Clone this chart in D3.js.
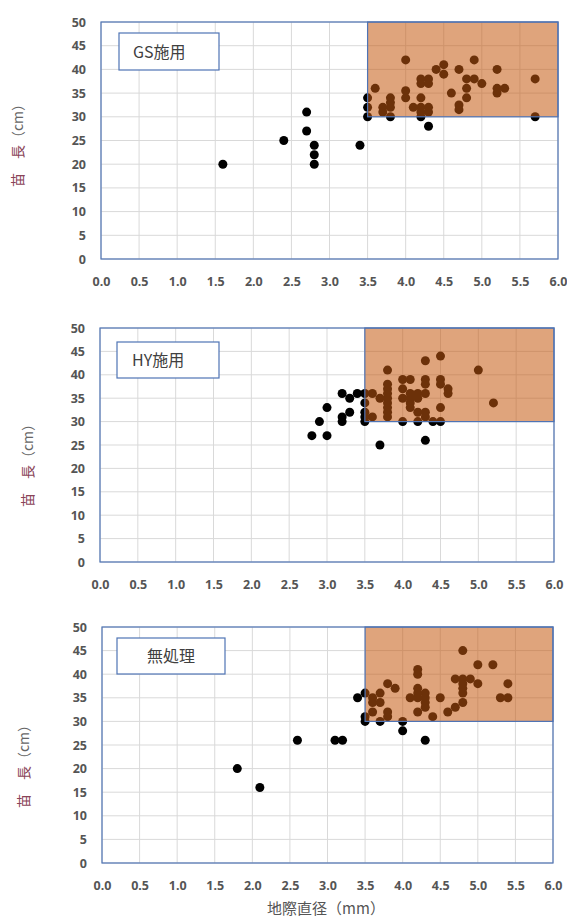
<!DOCTYPE html>
<html>
<head>
<meta charset="utf-8">
<script src="https://cdn.jsdelivr.net/npm/d3@7"></script>
<style>
  html, body { margin: 0; padding: 0; background: #fff; }
  svg { display: block; }
</style>
</head>
<body>
<svg id="chart" width="567" height="918"></svg>
<script>
// 地際直径 (mm) vs 苗長 (cm), three treatments
const xTicks = [0, 0.5, 1, 1.5, 2, 2.5, 3, 3.5, 4, 4.5, 5, 5.5, 6];
const yTicks = [0, 5, 10, 15, 20, 25, 30, 35, 40, 45, 50];
const panelNames = ["GS施用", "HY施用", "無処理"];

// target zone: diameter >= 3.5 mm and height >= 30 cm
const zoneX = [3.5, 6.0];
const zoneY = [30, 50];

// [diameter, height]
const gsPoints = [
  [1.6,20],[2.4,25],[2.7,31],[2.7,27],[2.8,24],[2.8,22],[2.8,20],[3.4,24],
  [3.5,34],[3.5,32],[3.5,30],[3.8,30],[4.2,30],[4.3,28],[5.7,30],
  [4.0,42],[4.5,41],[4.9,42],[4.4,40],[4.5,39],[4.7,40],[5.2,40],[5.7,38],
  [3.6,36],[4.0,35.5],[4.0,34],[4.2,38],[4.3,38],[4.2,37],[4.3,37],[4.6,35],
  [4.8,38],[4.8,36],[4.8,34],[4.9,38],[5.0,37],[5.2,36],[5.2,35],[5.3,36],
  [4.2,34],[4.1,32],[4.2,32],[4.3,32],[4.2,31],[4.3,31],[4.7,32.5],[4.7,31.5],
  [3.7,32],[3.7,31],[3.8,34],[3.8,33],[3.8,32]
];
const hyPoints = [
  [2.8,27],[3.0,27],[2.9,30],[3.0,33],[3.2,36],[3.2,31],[3.2,30],[3.3,35],
  [3.3,32],[3.4,36],[3.5,36],[3.5,34],[3.5,32],[3.5,31],[3.5,30],[3.7,25],
  [4.3,26],[4.0,30],[4.2,30],[4.4,30],[4.5,30],
  [4.5,44],[4.3,43],[3.8,41],[5.0,41],[5.2,34],[4.0,39],[4.1,39],[4.3,39],
  [4.3,38],[4.5,39],[3.8,38],[3.8,37],[3.8,36],[3.8,35],[3.8,34],[3.8,33],
  [3.8,32],[3.8,31],[4.0,37],[4.0,35],[4.1,36],[4.1,35],[4.1,34],[4.1,33],
  [4.2,36],[4.2,35],[4.3,36],[4.6,37],[4.6,36],[4.5,33],[4.5,38],[3.6,36],
  [3.7,35],[3.6,31],[4.2,32],[4.3,32],[4.3,31]
];
const nonePoints = [
  [1.8,20],[2.1,16],[2.6,26],[3.1,26],[3.2,26],[4.3,26],[4.0,28],[4.0,30],
  [3.4,35],[3.5,36],[3.5,31],[3.5,30],[3.7,30],
  [4.8,45],[5.0,42],[5.2,42],[4.2,41],[4.2,40],[4.7,39],[4.8,39],[4.9,39],
  [4.8,38],[4.8,37],[4.8,36],[5.0,38],[5.4,38],[5.3,35],[5.4,35],[4.8,34],
  [4.7,33],[4.6,32],[4.4,31],[4.5,35],[3.8,38],[3.9,37],[3.7,36],[3.6,35],
  [3.6,34],[3.6,32],[3.7,34],[3.8,32],[3.8,31],[4.1,35],[4.2,37],[4.2,36],
  [4.2,35],[4.2,32],[4.3,36],[4.3,35],[4.3,34],[4.3,33]
];
const panelData = [gsPoints, hyPoints, nonePoints];

// frame of each plot area and placement of its label box / y title
const frames = [
  {l: 101, r: 558, t: 22,  b: 259, box: [119, 33, 100, 37],  txt: [133, "start"], yt: [18, 142]},
  {l: 100, r: 554, t: 328, b: 562, box: [117, 342, 102, 36], txt: [132, "start"], yt: [28, 462]},
  {l: 102, r: 553, t: 627, b: 863, box: [117, 638, 108, 36], txt: [171, "middle"], yt: [24, 763]}
];

const BLUE = "#4f74b5";
const GRID = "#d9d9d9";
const TICK = "#555555";
const tickFont = "'Noto Sans', 'DejaVu Sans', sans-serif";
const cjkFont = "'Noto Sans CJK JP', 'Noto Sans', sans-serif";

const svg = d3.select("#chart");

frames.forEach((f, i) => {
  const x = d3.scaleLinear().domain([0, 6]).range([f.l, f.r]);
  const y = d3.scaleLinear().domain([0, 50]).range([f.b, f.t]);
  const g = svg.append("g");

  // grid
  g.append("g").selectAll("line.v").data(xTicks).join("line")
    .attr("x1", d => x(d)).attr("x2", d => x(d))
    .attr("y1", f.t).attr("y2", f.b)
    .attr("stroke", GRID).attr("stroke-width", 1);
  g.append("g").selectAll("line.h").data(yTicks).join("line")
    .attr("x1", f.l).attr("x2", f.r)
    .attr("y1", d => y(d)).attr("y2", d => y(d))
    .attr("stroke", GRID).attr("stroke-width", 1);

  // points
  g.append("g").selectAll("circle").data(panelData[i]).join("circle")
    .attr("cx", d => x(d[0])).attr("cy", d => y(d[1]))
    .attr("r", 4.5).attr("fill", "#000");

  // translucent target zone over the points
  g.append("rect")
    .attr("x", x(zoneX[0])).attr("y", y(zoneY[1]))
    .attr("width", x(zoneX[1]) - x(zoneX[0]))
    .attr("height", y(zoneY[0]) - y(zoneY[1]))
    .attr("fill", "#C55A11").attr("fill-opacity", 0.55)
    .attr("stroke", BLUE).attr("stroke-width", 1.2);

  // plot border
  g.append("rect")
    .attr("x", f.l).attr("y", f.t)
    .attr("width", f.r - f.l).attr("height", f.b - f.t)
    .attr("fill", "none").attr("stroke", BLUE).attr("stroke-width", 1.2);

  // axes
  const xa = g.append("g").attr("transform", `translate(0,${f.b})`)
    .call(d3.axisBottom(x).tickValues(xTicks).tickFormat(d3.format(".1f"))
      .tickSize(0).tickPadding(18));
  const ya = g.append("g").attr("transform", `translate(${f.l},0)`)
    .call(d3.axisLeft(y).tickValues(yTicks).tickSize(0).tickPadding(15));
  [xa, ya].forEach(a => {
    a.select(".domain").remove();
    a.selectAll("text").attr("fill", TICK)
      .style("font-family", tickFont).style("font-size", "12.5px")
      .style("font-weight", 700);
  });

  // label box
  const [bx, by, bw, bh] = f.box;
  g.append("rect").attr("x", bx).attr("y", by).attr("width", bw).attr("height", bh)
    .attr("fill", "#fff").attr("stroke", BLUE).attr("stroke-width", 1.2);
  g.append("text")
    .attr("x", f.txt[0]).attr("y", by + bh / 2 + 6)
    .attr("text-anchor", f.txt[1])
    .attr("fill", "#404040")
    .style("font-family", cjkFont).style("font-size", "16px")
    .text(panelNames[i]);

  // y title
  const yt = g.append("text")
    .attr("transform", `translate(${f.yt[0]},${f.yt[1]}) rotate(-90)`)
    .attr("text-anchor", "middle").attr("dy", "0.35em")
    .style("font-family", cjkFont).style("font-size", "14px");
  yt.append("tspan").attr("fill", "#8a4458").text("苗　長");
  yt.append("tspan").attr("fill", "#666").text("（cm）");
});

// x title
svg.append("text")
  .attr("x", 326).attr("y", 914)
  .attr("text-anchor", "middle")
  .attr("fill", TICK)
  .style("font-family", cjkFont).style("font-size", "15px")
  .text("地際直径（mm）");
</script>
</body>
</html>
